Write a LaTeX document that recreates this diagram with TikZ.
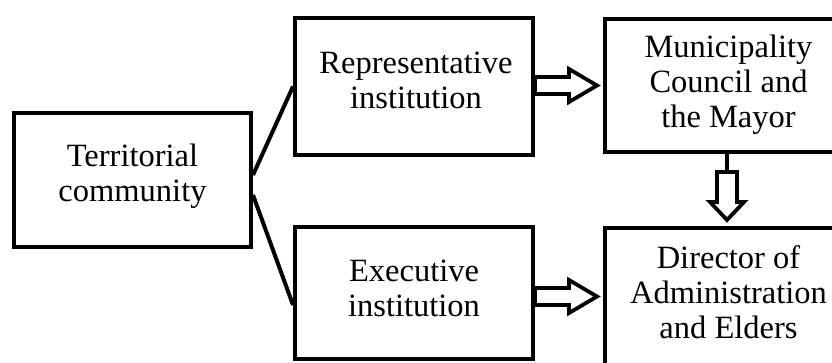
\documentclass[tikz,border=0pt]{standalone}
\usepackage{fontspec}
\setmainfont{Liberation Serif}
\usetikzlibrary{calc}
\begin{document}
\begin{tikzpicture}[x=1pt,y=-1pt,
  box/.style={draw, line width=4pt, inner sep=0pt},
  boxtext/.style={align=center, inner sep=0pt, font=\fontsize{32.5}{35}\selectfont},
  link/.style={line width=4pt},
  blockarrow/.style={draw, line width=3.8pt, fill=white, line join=miter}]
\useasboundingbox (0,0) rectangle (832,362);
\clip (0,0) rectangle (832,362);

% boxes, each with its text set a little above the centre
\node[box, minimum width=237pt, minimum height=134pt,
  label={[boxtext, yshift=4pt]center:{Territorial\\community}}] (terr) at (132.5,180) {};
\node[box, minimum width=238pt, minimum height=137pt,
  label={[boxtext, yshift=6pt, xshift=2pt]center:{Representative\\institution}}] (rep) at (414,86.5) {};
\node[box, minimum width=238pt, minimum height=132pt,
  label={[boxtext, yshift=5pt]center:{Executive\\institution}}] (exec) at (414,293) {};
\node[box, minimum width=247pt, minimum height=133pt,
  label={[boxtext, yshift=1pt]center:{Municipality\\Council and\\the Mayor}}] (mun) at (728.5,85.5) {};
\node[box, minimum width=247pt, minimum height=137pt,
  label={[boxtext, yshift=4pt]center:{Director of\\Administration\\and Elders}}] (dir) at (728.5,296.5) {};

% plain connectors from the community
\draw[link] ($(terr.east)+(0,-5)$) -- (rep.west);
\draw[link] ($(terr.east)+(0,15)$) -- ($(exec.west)+(0,12)$);

% block arrow: representative -> council
\coordinate (t1) at (rep.east |- mun.west);
\draw[blockarrow] ($(t1)+(0,-8.5)$) -- ++(34,0) -- ++(0,-8) -- ($(mun.west)+(-6,0)$)
  -- ($(t1)+(34,16.5)$) -- ++(0,-8) -- ($(t1)+(0,8.5)$) -- cycle;

% block arrow: executive -> director
\coordinate (t2) at (exec.east |- dir.west);
\draw[blockarrow] ($(t2)+(0,-8.5)$) -- ++(34,0) -- ++(0,-8) -- ($(dir.west)+(-6,0)$)
  -- ($(t2)+(34,16.5)$) -- ++(0,-8) -- ($(t2)+(0,8.5)$) -- cycle;

% block arrow: council -> director
\coordinate (s3) at ($(mun.south)+(-1.5,0)$);
\coordinate (h3) at ($(s3)+(0,18)$);
\draw[link, line width=3.8pt] (s3) -- (h3);
\draw[blockarrow] ($(h3)+(-10,0)$) -- ++(0,30) -- ++(-7,0) -- ($(dir.north -| h3)+(0,-6)$)
  -- ($(h3)+(17,30)$) -- ++(-7,0) -- ($(h3)+(10,0)$) -- cycle;
\end{tikzpicture}
\end{document}
